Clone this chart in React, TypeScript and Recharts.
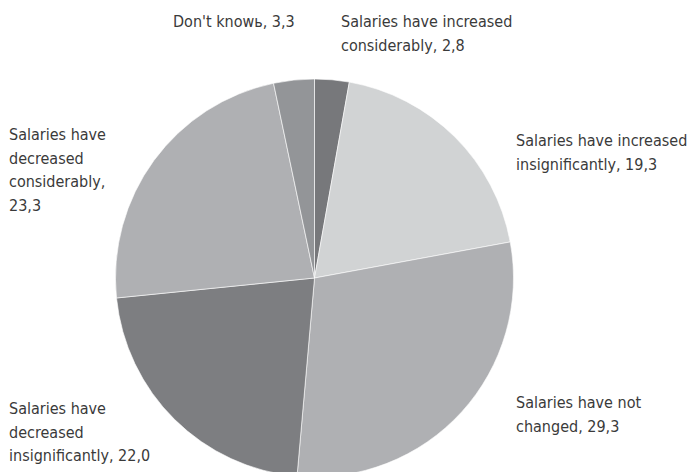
import React from 'react';
import { PieChart, Pie, Cell } from 'recharts';

// shares of respondents, clockwise from 12 o'clock
const categories = [
  'Salaries have increased considerably',
  'Salaries have increased insignificantly',
  'Salaries have not changed',
  'Salaries have decreased insignificantly',
  'Salaries have decreased considerably',
  "Don't knowь",
];
const values = [2.8, 19.3, 29.3, 22.0, 23.3, 3.3];

// how each label is broken into lines in the original
const labelLines = [
  ['Salaries have increased', 'considerably, 2,8'],
  ['Salaries have increased', 'insignificantly, 19,3'],
  ['Salaries have not', 'changed, 29,3'],
  ['Salaries have', 'decreased', 'insignificantly, 22,0'],
  ['Salaries have', 'decreased', 'considerably,', '23,3'],
  ["Don't knowь, 3,3"],
];

const COLORS = ['#77787b', '#d1d3d4', '#afb0b3', '#7d7e81', '#afb0b3', '#939598'];

// where each label block starts (left x, first baseline)
const LABEL_POS = [
  { x: 341, y: 27 },
  { x: 516, y: 146 },
  { x: 516, y: 408 },
  { x: 9, y: 414 },
  { x: 9, y: 140 },
  { x: 173, y: 27 },
];
const LINE_H = 23.5;

const data = categories.map((name, i) => ({ name, value: values[i] }));

const renderLabel = (props: any) => {
  const { index } = props;
  const pos = LABEL_POS[index];
  return (
    <text
      key={`lbl-${index}`}
      x={pos.x}
      y={pos.y}
      fill="#3a3a3a"
      fontSize={16}
      fontFamily="'Liberation Sans Narrow', 'DejaVu Sans Condensed', 'Roboto', sans-serif"
      textAnchor="start"
    >
      {labelLines[index].map((line, j) => (
        <tspan key={j} x={pos.x} y={pos.y + j * LINE_H}>
          {line}
        </tspan>
      ))}
    </text>
  );
};

export default function App() {
  return (
    <div style={{ position: 'absolute', left: 0, top: 0, width: 691, height: 472, background: '#fff' }}>
      <PieChart width={691} height={472} margin={{ top: 0, right: 0, bottom: 0, left: 0 }}>
        <Pie
          data={data}
          dataKey="value"
          cx={314.5}
          cy={278}
          outerRadius={199}
          startAngle={90}
          endAngle={-270}
          stroke="#ffffff"
          strokeWidth={0.6}
          label={renderLabel}
          labelLine={false}
          isAnimationActive={false}
        >
          {data.map((entry, index) => (
            <Cell key={`cell-${index}`} fill={COLORS[index]} />
          ))}
        </Pie>
      </PieChart>
    </div>
  );
}
